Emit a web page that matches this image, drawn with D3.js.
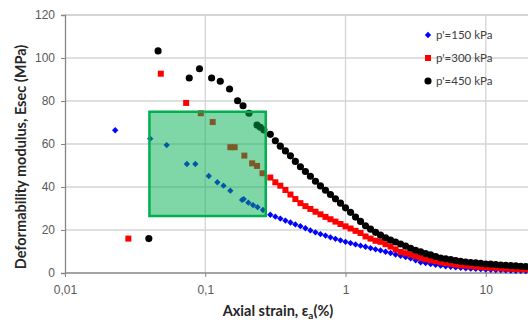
<!DOCTYPE html>
<html>
<head>
<meta charset="utf-8">
<script src="https://cdn.jsdelivr.net/npm/d3@7"></script>
<style>
  html, body { margin: 0; padding: 0; background: #fff; }
  svg { display: block; font-family: Lato, "Open Sans", sans-serif; }
</style>
</head>
<body>
<div id="chart"></div>
<script>
// isolated early readings, one list per confining pressure
const head150 = [[0.0228, 66.4], [0.0405, 62.5], [0.0531, 59.5], [0.074, 50.7], [0.085, 50.7],
  [0.106, 45.1], [0.122, 42.2], [0.135, 40.6], [0.151, 38.3], [0.183, 34.0], [0.188, 34.4],
  [0.203, 32.7], [0.219, 31.6], [0.236, 30.6], [0.258, 29.3]];
const head300 = [[0.0283, 16.0], [0.0482, 92.7], [0.0731, 79.1], [0.093, 74.3], [0.113, 70.2],
  [0.151, 58.5], [0.162, 58.5], [0.190, 54.6], [0.216, 51.0], [0.234, 49.8], [0.256, 46.4]];
const head450 = [[0.0396, 16.0], [0.0461, 103.3], [0.0769, 90.7], [0.091, 95.0], [0.111, 90.7],
  [0.128, 89.2], [0.149, 85.6], [0.170, 80.1], [0.186, 77.8], [0.205, 74.3], [0.234, 68.8],
  [0.247, 67.8], [0.262, 66.5]];

// dense tail of the tests, shared strain readings (%)
const tailStrain = [0.291, 0.316, 0.343, 0.373, 0.405, 0.439, 0.477, 0.518, 0.562, 0.611,
  0.663, 0.720, 0.781, 0.848, 0.921, 1.0, 1.086, 1.179, 1.280, 1.389, 1.509, 1.638, 1.778,
  1.931, 2.096, 2.276, 2.471, 2.683, 2.913, 3.162, 3.434, 3.728, 4.048, 4.394, 4.771, 5.179,
  5.623, 6.105, 6.629, 7.197, 7.814, 8.483, 9.211, 10.0, 10.86, 11.79, 12.80, 13.89, 15.09,
  16.38, 17.78, 19.31, 20.96];
const tail150 = [27.1, 26.2, 25.3, 24.4, 23.5, 22.6, 21.8, 20.8, 19.8, 18.9, 18.1, 17.4, 16.6,
  15.9, 15.2, 14.5, 13.9, 13.3, 12.7, 12.2, 11.6, 11.0, 10.5, 9.9, 9.3, 8.6, 8.0, 7.4, 6.8,
  5.9, 5.0, 4.6, 4.2, 3.8, 3.4, 3.1, 2.9, 2.6, 2.4, 2.2, 2.0, 1.9, 1.8, 1.6, 1.5, 1.4, 1.3,
  1.2, 1.1, 1.0, 1.0, 0.9, 0.9];
const tail300 = [44.4, 42.2, 40.6, 38.6, 36.5, 34.4, 32.5, 31.1, 29.8, 28.5, 27.3, 26.1, 25.0,
  23.9, 22.8, 21.7, 20.7, 19.6, 18.6, 17.0, 16.0, 15.0, 14.5, 13.4, 12.3, 11.0, 9.8, 9.2, 8.6,
  7.8, 7.0, 6.4, 5.9, 5.5, 5.0, 4.6, 4.3, 3.9, 3.6, 3.4, 3.2, 3.0, 2.8, 2.6, 2.5, 2.4, 2.2,
  2.1, 2.0, 1.9, 1.8, 1.7, 1.6];
const tail450 = [64.5, 61.5, 59.0, 56.8, 54.5, 51.9, 49.4, 47.2, 45.0, 42.7, 40.5, 38.5, 36.5,
  34.5, 32.5, 30.3, 28.2, 26.0, 24.0, 22.0, 20.4, 18.9, 17.6, 16.4, 15.3, 14.4, 13.5, 12.5,
  11.5, 10.6, 9.8, 9.0, 8.4, 7.7, 7.0, 6.6, 6.2, 5.8, 5.4, 5.1, 4.9, 4.7, 4.5, 4.2, 4.1, 3.9,
  3.7, 3.6, 3.4, 3.3, 3.1, 3.0, 2.9];

const seriesNames = ["p'=150 kPa", "p'=300 kPa", "p'=450 kPa"];
const seriesColors = ["#0000ff", "#ff0000", "#000000"];
const seriesShapes = [d3.symbolSquare, d3.symbolSquare, d3.symbolCircle];
const seriesSizes = [20, 36, 40];
const seriesTurn = [45, 0, 0];

const xTicks = [0.01, 0.1, 1, 10];
const xTickLabels = ["0,01", "0,1", "1", "10"];
const yTicks = [0, 20, 40, 60, 80, 100, 120];

// highlighted small-strain zone
const zoneStrain = [0.04, 0.27];
const zoneModulus = [26.5, 75];

const width = 528, height = 320;
const svg = d3.select("#chart").append("svg")
  .attr("width", width)
  .attr("height", height);

const x = d3.scaleLog().domain([0.01, 100]).range([65, 626]);
const y = d3.scaleLinear().domain([0, 120]).range([273, 15]);

const series = [
  head150.concat(tailStrain.map((s, i) => [s, tail150[i]])),
  head300.concat(tailStrain.map((s, i) => [s, tail300[i]])),
  head450.concat(tailStrain.map((s, i) => [s, tail450[i]]))
];

// grid
const grid = svg.append("g");
grid.selectAll("line.h")
  .data(yTicks.filter(d => d > 0))
  .enter().append("line")
  .attr("x1", 65).attr("x2", width)
  .attr("y1", d => y(d)).attr("y2", d => y(d))
  .attr("stroke", "#d4d4d4")
  .attr("stroke-width", d => d === 120 ? 2 : 1.3);
grid.selectAll("line.v")
  .data(xTicks.slice(1))
  .enter().append("line")
  .attr("x1", d => x(d)).attr("x2", d => x(d))
  .attr("y1", 15).attr("y2", 273)
  .attr("stroke", "#d4d4d4")
  .attr("stroke-width", 1.3);

// axes
const yAxis = svg.append("g")
  .attr("transform", "translate(65,0)")
  .call(d3.axisLeft(y).tickValues(yTicks).tickSize(4).tickPadding(6));
const xAxis = svg.append("g")
  .attr("transform", "translate(0,273)")
  .call(d3.axisBottom(x).tickValues(xTicks).tickFormat((d, i) => xTickLabels[i]).tickSize(4).tickPadding(8));
[xAxis, yAxis].forEach(a => {
  a.select(".domain").attr("stroke", "#868686").attr("stroke-width", 1.3);
  a.selectAll(".tick line").attr("stroke", "#868686");
  a.selectAll(".tick text").attr("fill", "#595959").style("font-size", "12px");
});
xAxis.select(".domain").attr("d", `M65,0H${width}`);

// data points
const plot = svg.append("g");
series.forEach((pts, k) => {
  const sym = d3.symbol().type(seriesShapes[k]).size(seriesSizes[k]);
  plot.append("g").selectAll("path")
    .data(pts)
    .enter().append("path")
    .attr("d", sym)
    .attr("transform", d => `translate(${x(d[0])},${y(d[1])}) rotate(${seriesTurn[k]})`)
    .attr("fill", seriesColors[k]);
});

// zone rectangle drawn above the points
svg.append("rect")
  .attr("x", x(zoneStrain[0]))
  .attr("y", y(zoneModulus[1]))
  .attr("width", x(zoneStrain[1]) - x(zoneStrain[0]))
  .attr("height", y(zoneModulus[0]) - y(zoneModulus[1]))
  .attr("fill", "#00b050")
  .attr("fill-opacity", 0.5)
  .attr("stroke", "#00b050")
  .attr("stroke-width", 2.5);

// legend
const legend = svg.append("g").attr("transform", "translate(428,35)");
seriesNames.forEach((name, k) => {
  const row = legend.append("g").attr("transform", `translate(0,${k * 23})`);
  row.append("path")
    .attr("d", d3.symbol().type(seriesShapes[k]).size(seriesSizes[k])())
    .attr("transform", `rotate(${seriesTurn[k]})`)
    .attr("fill", seriesColors[k]);
  row.append("text")
    .attr("x", 8).attr("y", 4)
    .attr("fill", "#404040")
    .style("font-size", "11.5px")
    .text(name);
});

// axis titles
const xTitle = svg.append("text")
  .attr("x", 278).attr("y", 316)
  .attr("text-anchor", "middle")
  .attr("fill", "#262626")
  .style("font-size", "14.5px")
  .style("font-weight", "bold");
xTitle.append("tspan").text("Axial strain, ε");
xTitle.append("tspan").attr("dy", 3).style("font-size", "10px").text("a");
xTitle.append("tspan").attr("dy", -3).text("(%)");

svg.append("text")
  .attr("transform", "translate(26,157) rotate(-90)")
  .attr("text-anchor", "middle")
  .attr("fill", "#262626")
  .style("font-size", "14.5px")
  .style("font-weight", "bold")
  .text("Deformability modulus, Esec (MPa)");
</script>
</body>
</html>
